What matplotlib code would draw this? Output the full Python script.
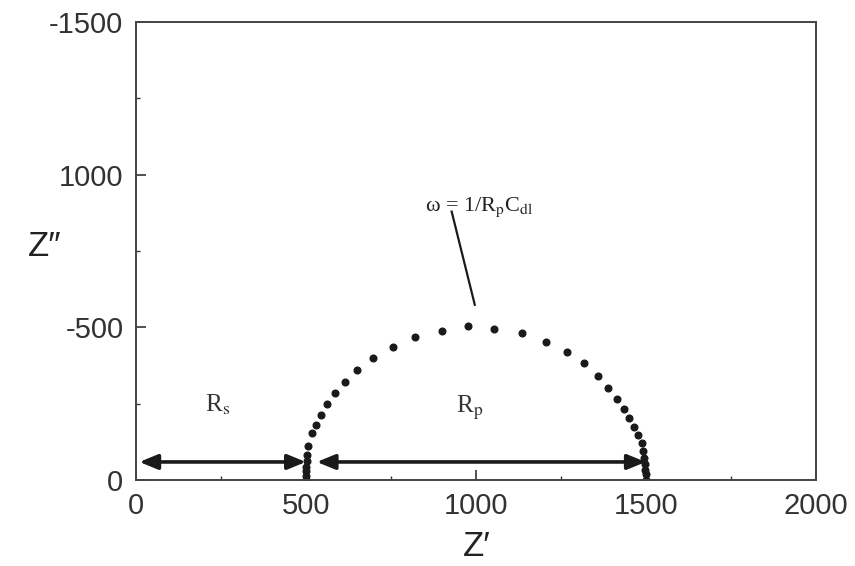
import matplotlib
matplotlib.use('Agg')
import matplotlib.pyplot as plt

plt.rcParams['mathtext.fontset'] = 'stix'

# semicircle points (Z', -Z'')
z_re = [500, 500, 500.5, 501, 502, 503, 506, 518, 529, 544, 562, 585, 615, 650,
        697, 756, 821, 900, 976, 1053, 1135, 1206, 1268, 1318, 1359, 1388,
        1415, 1435, 1450, 1465, 1476, 1488, 1493, 1496, 1498, 1499, 1500, 1500]
z_im = [0, 14, 28, 42, 62, 82, 110, 154, 180, 213, 249, 285, 321, 361,
        400, 436, 469, 489, 505, 495, 482, 452, 420, 384, 341, 302,
        266, 233, 203, 174, 148, 121, 95, 72, 52, 34, 18, 0]

x_ticks = [0, 500, 1000, 1500, 2000]
y_ticks = [0, 500, 1000, 1500]
y_ticklabels = ['0', '-500', '1000', '-1500']

arrow_y = 59
rs_span = (10, 500)
rp_span = (532, 1500)

fig = plt.figure(figsize=(8.55, 5.66), dpi=100)
ax = fig.add_axes([0.159, 0.152, 0.795, 0.809])

ax.plot(z_re, z_im, 'o', color='#1a1a1a', ms=4.8, mec='#1a1a1a')

for x0, x1 in (rs_span, rp_span):
    ax.annotate('', xy=(x0, arrow_y), xytext=(x1, arrow_y),
                arrowprops=dict(arrowstyle='<|-|>,head_length=1.1,head_width=0.45',
                                color='#1a1a1a', lw=2.6, shrinkA=0, shrinkB=0))

ax.text(241, 246, r'R$_\mathrm{s}$', fontsize=18, family='Liberation Serif',
        ha='center', va='center', color='#333333')
ax.text(982, 236, r'R$_\mathrm{p}$', fontsize=18, family='Liberation Serif',
        ha='center', va='center', color='#333333')
ax.text(1009, 892, r'ω = 1/R$_\mathrm{p}$C$_\mathrm{dl}$', fontsize=16,
        family=['Liberation Serif', 'DejaVu Serif'], ha='center', va='center',
        color='#222222')
ax.plot([929, 997], [879, 574], color='#1a1a1a', lw=1.6)

ax.set_xlim(0, 2000)
ax.set_ylim(0, 1500)
ax.set_xticks(x_ticks)
ax.set_xticklabels([str(v) for v in x_ticks])
ax.set_yticks(y_ticks)
ax.set_yticklabels(y_ticklabels)
ax.set_xticks([250, 750, 1250, 1750], minor=True)
ax.set_yticks([250, 750, 1250], minor=True)

ax.tick_params(which='both', direction='in', colors='#333333')
ax.tick_params(which='major', length=7, width=1.2, labelsize=21, pad=9)
ax.tick_params(which='minor', length=3, width=1.0)
for lab in ax.get_xticklabels() + ax.get_yticklabels():
    lab.set_family('Liberation Sans')
    lab.set_color('#333333')
for sp in ax.spines.values():
    sp.set_linewidth(1.4)
    sp.set_color('#444444')

fig.text(477 / 855, 1 - 547 / 566, 'Z′', fontsize=25,
         family=['Liberation Sans', 'DejaVu Sans'],
         ha='center', va='center', color='#222222')
fig.text(45 / 855, 1 - 247 / 566, 'Z″', fontsize=25,
         family=['Liberation Sans', 'DejaVu Sans'],
         ha='center', va='center', color='#222222')

fig.savefig('out.png', dpi=100)
